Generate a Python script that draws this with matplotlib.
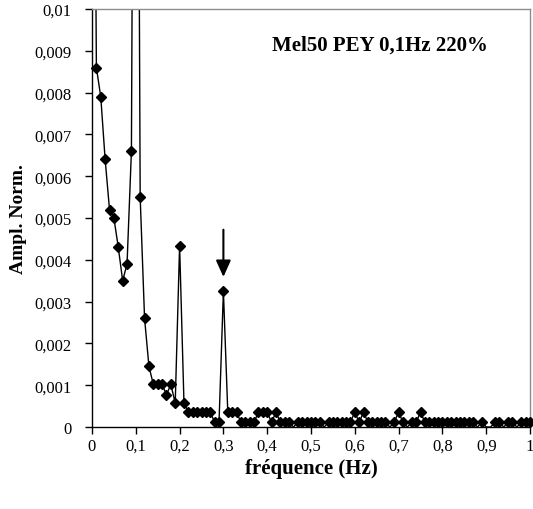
import numpy as np
import matplotlib
matplotlib.use("Agg")
import matplotlib.pyplot as plt
from matplotlib.ticker import FuncFormatter

# ---- data ----
freq = [round(0.01 * i, 2) for i in range(101)]
ampl = [
    0.025, 0.0086, 0.0079, 0.0064, 0.0052, 0.0050, 0.0043, 0.0035, 0.0039, 0.0066,   # 0.00-0.09
    0.030, 0.0055, 0.0026, 0.00145, 0.00102, 0.00102, 0.00102, 0.00077, 0.00102, 0.00057,  # 0.10-0.19
    0.00434, 0.00057, 0.00036, 0.00036, 0.00036, 0.00036, 0.00036, 0.00036, 0.00011, 0.00011,  # 0.20-0.29
    0.00325, 0.00036, 0.00036, 0.00036, 0.00011, 0.00011, 0.00011, 0.00011, 0.00036, 0.00036,  # 0.30-0.39
    0.00036, 0.00011, 0.00036, 0.00011, 0.00011, 0.00011, 0.0, 0.00011, 0.00011, 0.00011,  # 0.40-0.49
    0.00011, 0.00011, 0.00011, 0.0, 0.00011, 0.00011, 0.00011, 0.00011, 0.00011, 0.00011,  # 0.50-0.59
    0.00036, 0.00011, 0.00036, 0.00011, 0.00011, 0.00011, 0.00011, 0.00011, 0.0, 0.00011,  # 0.60-0.69
    0.00036, 0.00011, 0.0, 0.00011, 0.00011, 0.00036, 0.00011, 0.00011, 0.00011, 0.00011,  # 0.70-0.79
    0.00011, 0.00011, 0.00011, 0.00011, 0.00011, 0.00011, 0.00011, 0.00011, 0.0, 0.00011,  # 0.80-0.89
    0.0, 0.0, 0.00011, 0.00011, 0.0, 0.00011, 0.00011, 0.0, 0.00011, 0.00011,  # 0.90-0.99
    0.00011,  # 1.00
]
x_ticks = [0, 0.1, 0.2, 0.3, 0.4, 0.5, 0.6, 0.7, 0.8, 0.9, 1.0]
y_ticks = [0, 0.001, 0.002, 0.003, 0.004, 0.005, 0.006, 0.007, 0.008, 0.009, 0.01]
title_text = "Mel50 PEY 0,1Hz 220%"
x_label = "fréquence (Hz)"
y_label = "Ampl. Norm."
arrow_freq = 0.30
arrow_tip, arrow_tail = 0.00359, 0.00472

serif = ["Liberation Serif", "DejaVu Serif"]
plt.rcParams["font.family"] = serif

fig = plt.figure(figsize=(5.33, 5.10), dpi=100)
ax = fig.add_axes([92 / 533, 1 - 428 / 510, (530 - 92) / 533, (428 - 10) / 510])

fr = np.array(freq)
am = np.array(ampl)
ax.plot(fr, am, color="black", lw=1.0, zorder=2)
mask = (am > 0) & (am <= 0.01)
ax.plot(fr[mask], am[mask], linestyle="none", marker="D", ms=5.5,
        color="black", clip_on=False, zorder=3)

ax.set_xlim(0, 1)
ax.set_ylim(0, 0.01)
ax.set_xticks(x_ticks)
ax.set_yticks(y_ticks)

def fmt(v, pos):
    s = ("%.3f" % v).rstrip("0").rstrip(".")
    return s.replace(".", ",")

ax.xaxis.set_major_formatter(FuncFormatter(fmt))
ax.yaxis.set_major_formatter(FuncFormatter(fmt))
ax.tick_params(axis="both", direction="out", length=5, width=1, labelsize=12, colors="black")
ax.tick_params(axis="y", pad=10)
ax.tick_params(axis="x", pad=3)

for s in ["left", "bottom"]:
    ax.spines[s].set_color("black")
    ax.spines[s].set_linewidth(1.0)
for s in ["top", "right"]:
    ax.spines[s].set_color("#8c8c8c")
    ax.spines[s].set_linewidth(1.0)

ax.set_xlabel(x_label, fontsize=15, fontweight="bold", labelpad=3)
ax.set_ylabel(y_label, fontsize=14, fontweight="bold", labelpad=5)

ax.text(0.657, 0.00916, title_text, fontsize=15, fontweight="bold",
        ha="center", va="center")

ax.annotate("", xy=(arrow_freq, arrow_tip), xytext=(arrow_freq, arrow_tail),
            arrowprops=dict(arrowstyle="-|>,head_width=0.45,head_length=1.0",
                            color="black", lw=1.5, shrinkA=0, shrinkB=0))

fig.savefig("out.png", dpi=100)
